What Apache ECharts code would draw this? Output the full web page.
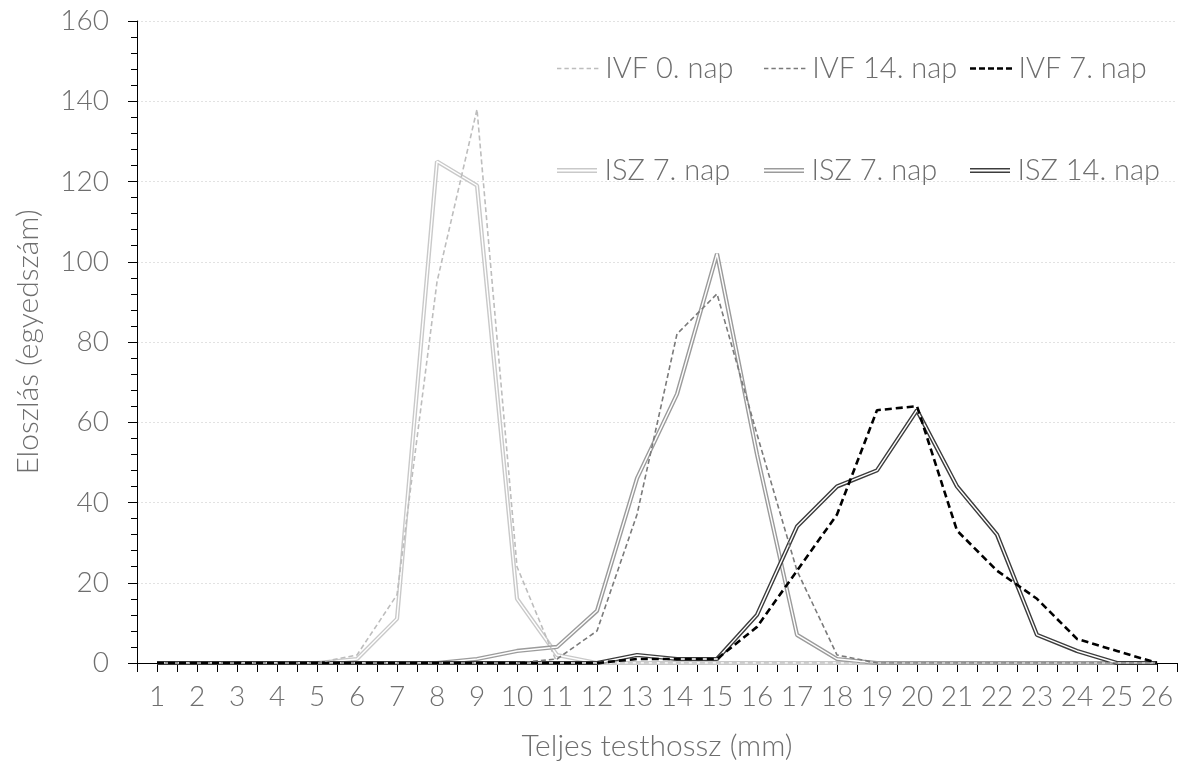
<!DOCTYPE html>
<html><head><meta charset="utf-8">
<script src="https://cdn.jsdelivr.net/npm/echarts@6/dist/echarts.min.js"></script>
<style>html,body{margin:0;padding:0;background:#fff}#c{width:1185px;height:771px}</style>
</head><body><div id="c"></div>
<script>
const categories = ['1','2','3','4','5','6','7','8','9','10','11','12','13','14','15','16','17','18','19','20','21','22','23','24','25','26'];
const yTicks = { min: 0, max: 160, interval: 20 };
const ivf0Nap  = [0,0,0,0,0,2,17,95,138,24,0,0,0,0,0,0,0,0,0,0,0,0,0,0,0,0];
const ivf14Nap = [0,0,0,0,0,0,0,0,0,0,1,8,37,82,92,57,23,2,0,0,0,0,0,0,0,0];
const ivf7Nap  = [0,0,0,0,0,0,0,0,0,0,0,0,1,1,1,9,23,37,63,64,33,23,16,6,3,0];
const isz7NapA = [0,0,0,0,0,1,11,125,119,16,2,0,0,0,0,0,0,0,0,0,0,0,0,0,0,0];
const isz7NapB = [0,0,0,0,0,0,0,0,1,3,4,13,46,67,102,52,7,1,0,0,0,0,0,0,0,0];
const isz14Nap = [0,0,0,0,0,0,0,0,0,0,0,0,2,1,1,12,34,44,48,63,44,32,7,3,0,0];

const FONT = 'Lato';
const TXT = '#6e6e6e';
const DOUBLE_ICON = 'path://M0,0L40,0L40,1.6L0,1.6Z M0,3.4L40,3.4L40,5L0,5Z';
function dashIcon(n, dash, gap, h) {
  let p = 'path://';
  for (let i = 0; i < n; i++) {
    const x = i * (dash + gap);
    p += 'M' + x + ',0L' + (x + dash) + ',0L' + (x + dash) + ',' + h + 'L' + x + ',' + h + 'Z ';
  }
  return p.trim();
}

function dashed(name, data, color, width, dash) {
  return { name, type: 'line', data, xAxisIndex: 0, symbol: 'none', showSymbol: false,
    itemStyle: { color }, lineStyle: { color, width, type: dash }, z: 5, silent: true };
}
function doubleLine(name, data, color) {
  return [
    { name, type: 'line', data, xAxisIndex: 0, symbol: 'none', showSymbol: false,
      itemStyle: { color }, lineStyle: { color, width: 4.2 }, z: 3, silent: true },
    { name: name + ' inner', type: 'line', data, xAxisIndex: 0, symbol: 'none', showSymbol: false,
      itemStyle: { color: '#fff' }, lineStyle: { color: '#ffffff', width: 1.4 }, z: 3, silent: true }
  ];
}
function legendItem(name, left, top, icon, h, label) {
  const l = { data: [name], left, top, padding: 0, itemWidth: 43, itemHeight: h,
    itemGap: 0, selectedMode: false, icon,
    textStyle: { fontFamily: FONT, fontSize: 29, color: TXT, fontWeight: 300, padding: [0,0,0,1] } };
  if (label) l.formatter = () => label;
  return l;
}

const chart = echarts.init(document.getElementById('c'), null, { renderer: 'canvas' });
chart.setOption({
  backgroundColor: '#fff',
  animation: false,
  textStyle: { fontFamily: FONT },
  grid: { left: 137, right: 8, top: 21, bottom: 108, containLabel: false },
  legend: [
    legendItem('IVF 0. nap', 557, 54, dashIcon(6, 4.4, 3, 1.5), 1.5),
    legendItem('IVF 14. nap', 764, 54, dashIcon(6, 4.4, 3, 1.5), 1.5),
    legendItem('IVF 7. nap', 970, 54, dashIcon(5, 6, 3, 2.6), 2.6),
    legendItem('ISZ 7. nap', 557, 156, DOUBLE_ICON, 5),
    legendItem('ISZ 7. nap B', 764, 156, DOUBLE_ICON, 5, 'ISZ 7. nap'),
    legendItem('ISZ 14. nap', 970, 156, DOUBLE_ICON, 5)
  ],
  xAxis: [
    { type: 'category', data: categories, boundaryGap: true, position: 'bottom',
      name: 'Teljes testhossz (mm)', nameLocation: 'middle', nameGap: 68,
      nameTextStyle: { fontFamily: FONT, fontSize: 30, color: TXT, fontWeight: 300 },
      axisLine: { show: true, lineStyle: { color: '#000', width: 1 } },
      axisTick: { show: true, alignWithLabel: false, length: 9, inside: false, lineStyle: { color: '#000' } },
      axisLabel: { show: true, interval: 0, margin: 20, fontFamily: FONT, fontSize: 28, color: TXT, fontWeight: 300 },
      splitLine: { show: false } },
    { type: 'category', data: categories, boundaryGap: true, position: 'bottom', offset: 0,
      axisLine: { show: false },
      axisTick: { show: true, alignWithLabel: true, interval: 0, length: 9, lineStyle: { color: '#000' } },
      axisLabel: { show: false }, splitLine: { show: false } }
  ],
  yAxis: {
    type: 'value', min: yTicks.min, max: yTicks.max, interval: yTicks.interval,
    name: 'Eloszlás (egyedszám)', nameLocation: 'middle', nameGap: 94,
    nameTextStyle: { fontFamily: FONT, fontSize: 30, color: TXT, fontWeight: 300 },
    axisLine: { show: true, lineStyle: { color: '#000', width: 1 } },
    axisTick: { show: true, length: 9, lineStyle: { color: '#000' } },
    minorTick: { show: true, splitNumber: 5, length: 6, lineStyle: { color: '#000' } },
    axisLabel: { margin: 28, fontFamily: FONT, fontSize: 28, color: TXT, fontWeight: 300 },
    splitLine: { show: true, lineStyle: { color: '#e2e2e2', type: [2, 2], width: 1 } },
    minorSplitLine: { show: false }
  },
  series: [
    ...doubleLine('ISZ 7. nap', isz7NapA, '#c9c9c9'),
    ...doubleLine('ISZ 7. nap B', isz7NapB, '#9b9b9b'),
    ...doubleLine('ISZ 14. nap', isz14Nap, '#3c3c3c'),
    dashed('IVF 0. nap', ivf0Nap, '#bdbdbd', 1.6, [5, 3]),
    dashed('IVF 14. nap', ivf14Nap, '#7a7a7a', 1.6, [5, 3]),
    dashed('IVF 7. nap', ivf7Nap, '#000000', 2.6, [7, 4])
  ]
});
</script></body></html>
